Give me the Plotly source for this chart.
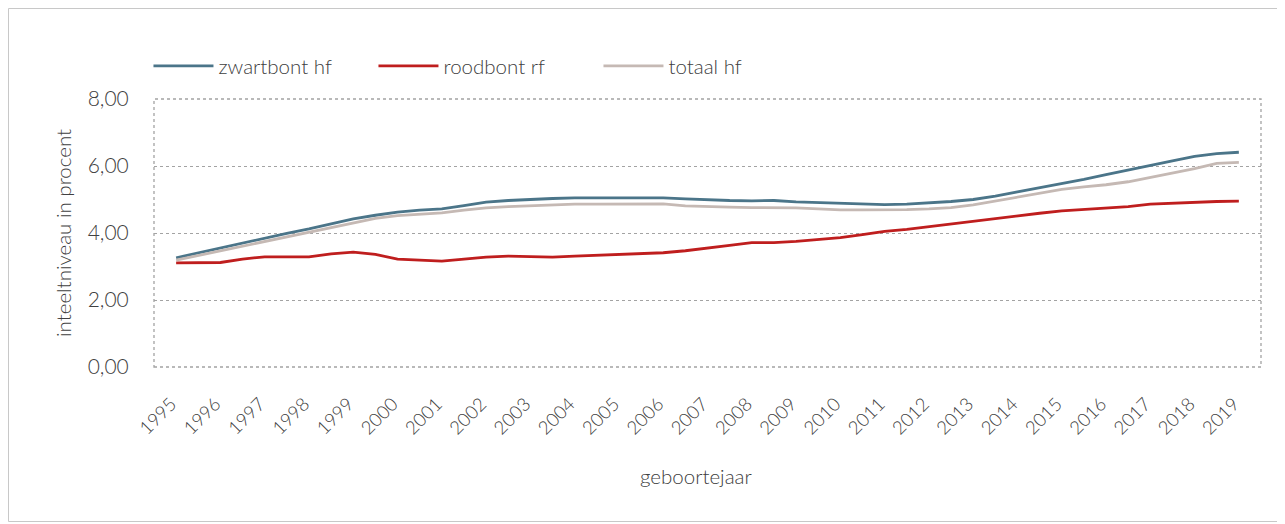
import plotly.graph_objects as go

# half-year periods (geboortejaar)
periods = [1995, 1995.5, 1996, 1996.5, 1997, 1997.5, 1998, 1998.5, 1999, 1999.5,
           2000, 2000.5, 2001, 2001.5, 2002, 2002.5, 2003, 2003.5, 2004, 2004.5,
           2005, 2005.5, 2006, 2006.5, 2007, 2007.5, 2008, 2008.5, 2009, 2009.5,
           2010, 2010.5, 2011, 2011.5, 2012, 2012.5, 2013, 2013.5, 2014, 2014.5,
           2015, 2015.5, 2016, 2016.5, 2017, 2017.5, 2018, 2018.5, 2019]

zwartbont_hf = [3.26, 3.41, 3.55, 3.70, 3.85, 3.99, 4.12, 4.27, 4.42, 4.53,
                4.62, 4.68, 4.72, 4.82, 4.92, 4.97, 5.01, 5.03, 5.05, 5.05,
                5.05, 5.05, 5.05, 5.02, 4.99, 4.97, 4.96, 4.97, 4.93, 4.91,
                4.90, 4.88, 4.85, 4.86, 4.89, 4.94, 5.00, 5.10, 5.23, 5.35,
                5.47, 5.60, 5.74, 5.87, 6.00, 6.15, 6.29, 6.37, 6.41]

roodbont_rf = [3.11, 3.11, 3.12, 3.22, 3.29, 3.29, 3.29, 3.38, 3.43, 3.36,
               3.22, 3.19, 3.16, 3.22, 3.28, 3.31, 3.29, 3.28, 3.31, 3.34,
               3.36, 3.38, 3.41, 3.47, 3.54, 3.63, 3.71, 3.71, 3.75, 3.80,
               3.86, 3.95, 4.05, 4.11, 4.19, 4.28, 4.37, 4.45, 4.52, 4.59,
               4.66, 4.70, 4.74, 4.79, 4.86, 4.89, 4.90, 4.94, 4.95]

totaal_hf = [3.19, 3.33, 3.47, 3.62, 3.76, 3.90, 4.04, 4.18, 4.32, 4.44,
             4.52, 4.57, 4.60, 4.68, 4.75, 4.79, 4.82, 4.84, 4.86, 4.86,
             4.86, 4.87, 4.87, 4.81, 4.78, 4.77, 4.76, 4.76, 4.75, 4.72,
             4.69, 4.69, 4.69, 4.70, 4.72, 4.76, 4.84, 4.96, 5.06, 5.18,
             5.30, 5.38, 5.44, 5.53, 5.66, 5.80, 5.92, 6.08, 6.11]

year_ticks = list(range(1995, 2020))
year_labels = [str(y) for y in year_ticks]
y_ticks = [0, 2, 4, 6, 8]

series_names = ["zwartbont hf", "roodbont rf", "totaal hf"]
series_colors = ["#4b7589", "#bf1e1e", "#c5b9b4"]
series_values = [zwartbont_hf, roodbont_rf, totaal_hf]

FONT = "Lato"
TXT = "#404040"
FS = 20.5

fig = go.Figure()
for i, (name, col, vals) in enumerate(zip(series_names, series_colors, series_values)):
    fig.add_trace(go.Scatter(
        x=periods, y=vals, name=name, mode="lines",
        line=dict(color=col, width=2.8),
        legendrank=i + 1,
    ))

# the page body adds an 8px offset; margins compensate so the plot area
# lands at x 154..1261, y 99..367 on screen
fig.update_layout(
    width=1285, height=524,
    margin=dict(l=146, r=32, t=91, b=165),
    paper_bgcolor="white", plot_bgcolor="white",
    separators=",.",
    font=dict(family=FONT, color=TXT, size=FS, weight=300),
    showlegend=True,
    legend=dict(
        orientation="h", x=-0.005, xanchor="left", y=1.123, yanchor="middle",
        font=dict(family=FONT, size=FS, color=TXT, weight=300),
        itemwidth=60, entrywidth=150, traceorder="normal",
        bgcolor="rgba(0,0,0,0)",
    ),
    xaxis=dict(
        range=[1994.5, 2019.5], tickmode="array", tickvals=year_ticks, ticktext=year_labels,
        tickangle=-45, showgrid=False, zeroline=False, showline=False,
        ticks="outside", ticklen=18, tickcolor="rgba(0,0,0,0)",
        ticklabelshift=-5,
        tickfont=dict(family=FONT, size=18.5, color=TXT, weight=300),
    ),
    yaxis=dict(
        range=[0, 8], tickmode="array", tickvals=y_ticks, tickformat=".2f",
        showgrid=True, gridcolor="#a3a3a3", griddash="dot", gridwidth=1.3,
        zeroline=False, showline=False,
        ticks="outside", ticklen=20, tickcolor="rgba(0,0,0,0)",
        tickfont=dict(family=FONT, size=21, color=TXT, weight=300),
    ),
)

# dotted plot frame
fig.add_shape(type="rect", xref="paper", yref="paper", x0=0, y0=0, x1=1, y1=1,
              line=dict(color="#a3a3a3", width=1.3, dash="dot"), layer="below")
# outer chart frame
fig.add_shape(type="rect", xref="paper", yref="paper",
              x0=(8.5 - 154) / 1107, x1=(1280.5 - 154) / 1107,
              y0=(367 - 521.5) / 268, y1=(367 - 8.5) / 268,
              line=dict(color="#c8c8c8", width=1))

fig.add_annotation(text="inteeltniveau in procent", xref="paper", yref="paper",
                   x=(63 - 154) / 1107, y=0.5, xanchor="center", yanchor="middle",
                   textangle=-90, showarrow=False,
                   font=dict(family=FONT, size=FS, color=TXT, weight=300))
fig.add_annotation(text="geboortejaar", xref="paper", yref="paper",
                   x=(696 - 154) / 1107, y=(367 - 476) / 268,
                   xanchor="center", yanchor="middle", showarrow=False,
                   font=dict(family=FONT, size=FS, color=TXT, weight=300))

fig.write_html("out.html")
